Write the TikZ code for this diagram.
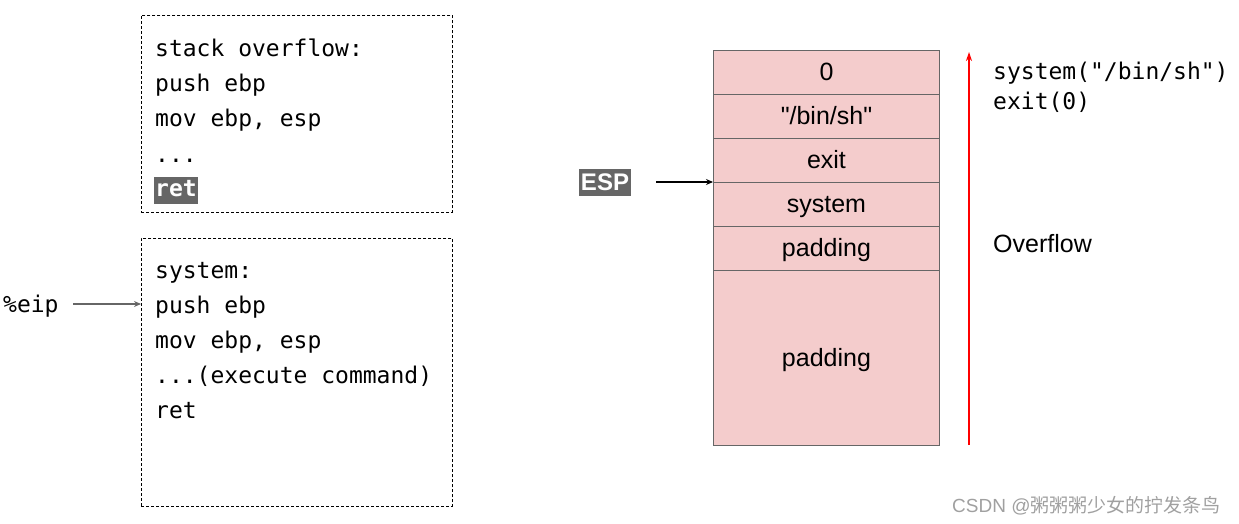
\documentclass[tikz,border=0pt]{standalone}
\usepackage{fontspec}
\setmainfont{Liberation Sans}
\newfontfamily\monofont{DejaVu Sans Mono}
\newfontfamily\cjkfont{Noto Sans CJK SC}
\usetikzlibrary{arrows.meta}
\definecolor{cellpink}{HTML}{F4CCCC}
\definecolor{cellline}{HTML}{666666}
\definecolor{hlgray}{HTML}{666666}
\definecolor{wmgray}{HTML}{A0A0A0}
\tikzset{
  dbox/.style={draw=black, line width=0.9pt, dash pattern=on 3pt off 2pt, anchor=north west, inner sep=0pt},
  code/.style={font=\monofont\fontsize{23}{35}\selectfont, anchor=base west, inner sep=0pt},
  hlcode/.style={font=\monofont\bfseries\fontsize{23}{35}\selectfont, fill=hlgray, text=white, inner xsep=1pt, inner ysep=3pt, text height=16pt, text depth=5pt, anchor=base west},
  cell/.style={draw=cellline, fill=cellpink, line width=0.9pt, anchor=north west, minimum width=226pt, inner sep=0pt, text height=17pt, text depth=0pt, font=\fontsize{25}{28}\selectfont},
  lbl/.style={font=\fontsize{25}{28}\selectfont, anchor=base west, inner sep=0pt},
  esptag/.style={fill=hlgray, text=white, font=\bfseries\fontsize{24}{26}\selectfont, inner xsep=2pt, inner ysep=5pt, text height=17pt, text depth=0pt},
}
\begin{document}
\begin{tikzpicture}[x=1pt,y=-1pt]
\useasboundingbox (0,0) rectangle (1239,524);
% left boxes
\node[dbox, minimum width=311pt, minimum height=197pt] (box1) at (141,15) {};
\node[dbox, minimum width=311pt, minimum height=268pt] (box2) at (141,238) {};
\node[code] (a1) at (155,57) {stack overflow:};
\node[code] (a2) at (155,92) {push ebp};
\node[code] (a3) at (155,127) {mov ebp, esp};
\node[code] (a4) at (155,162) {...};
\node[hlcode] (a5) at (154,196) {ret};
\node[code] (b1) at (155,278) {system:};
\node[code] (b2) at (155,313) {push ebp};
\node[code] (b3) at (155,348) {mov ebp, esp};
\node[code] (b4) at (155,383) {...(execute command)};
\node[code] (b5) at (155,418) {ret};
\node[code] (eip) at (3,312) {\%eip};
\coordinate (eipstart) at (73,304);
\draw[draw=cellline, line width=1.2pt, -{Stealth[length=7pt,width=6pt]}] (eipstart) -- (eipstart -| box2.west);
% stack
\node[cell, minimum height=44pt] (c1) at (713,50) {0};
\node[cell, minimum height=44pt] (c2) at (713,94) {\textquotedbl/bin/sh\textquotedbl};
\node[cell, minimum height=44pt] (c3) at (713,138) {exit};
\node[cell, minimum height=44pt] (c4) at (713,182) {system};
\node[cell, minimum height=44pt] (c5) at (713,226) {padding};
\node[cell, minimum height=175pt] (c6) at (713,270) {padding};
% ESP
\node[esptag] (esp) at (605,182) {ESP};
\coordinate (espstart) at (656,182);
\draw[line width=1.3pt, -{Stealth[length=7pt,width=6pt]}] (espstart) -- (espstart -| c3.west);
% red arrow
\coordinate (rb) at (969,445);
\coordinate (rt) at (969,52);
\draw[red, line width=1.4pt, -{Stealth[length=9pt,width=6pt]}] (rb) -- (rt);
\node[code] (s1) at (993,80) {system("/bin/sh")};
\node[code] (s2) at (993,110) {exit(0)};
\node[lbl] (ovf) at (993,252) {Overflow};
% watermark
\node[anchor=base west, inner sep=0pt, text=wmgray, font=\fontsize{19}{22}\selectfont] (wm) at (952,512) {CSDN @{\cjkfont 粥粥粥少女的拧发条鸟}};
\end{tikzpicture}
\end{document}
